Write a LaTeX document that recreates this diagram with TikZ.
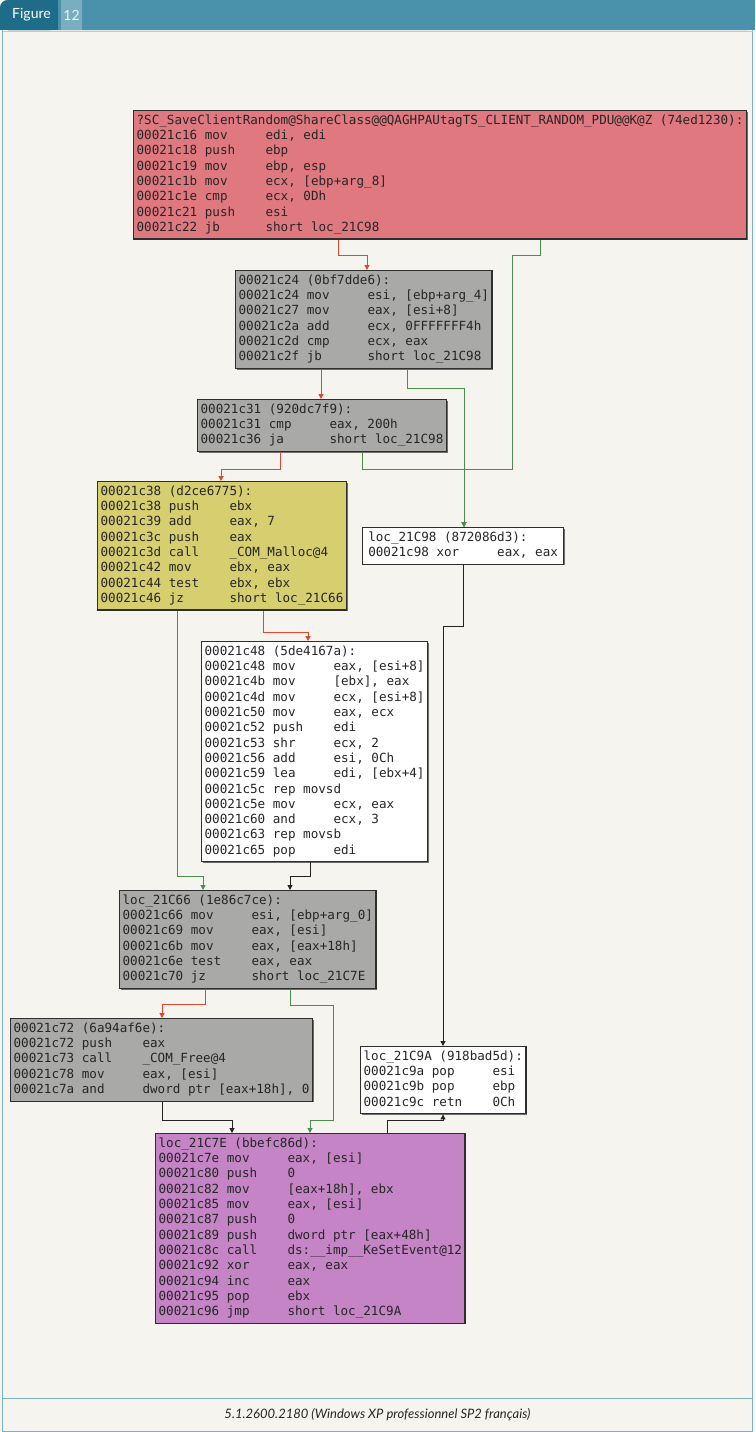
\documentclass[tikz,border=0pt]{standalone}
\usepackage{fontspec}
\setmainfont{Lato}
\newfontfamily\codefont{DejaVu Sans Mono}
\usetikzlibrary{arrows.meta,shadows}
\definecolor{paper}{HTML}{F6F4EE}
\definecolor{barteal}{HTML}{4A92AB}
\definecolor{tabdark}{HTML}{1F6C89}
\definecolor{tablight}{HTML}{79AEC0}
\definecolor{frameblue}{HTML}{7EAEC2}
\definecolor{redbox}{HTML}{E07880}
\definecolor{graybox}{HTML}{A9A9A7}
\definecolor{yelbox}{HTML}{D7CE6F}
\definecolor{purbox}{HTML}{C584C6}
\definecolor{boxline}{HTML}{2E2E2E}
\definecolor{lred}{HTML}{E5442F}
\definecolor{lgreen}{HTML}{4E8C4C}
\definecolor{lblack}{HTML}{222222}
\newcommand\code{\codefont\fontsize{12.6}{15.3}\selectfont}
\newcommand\I[2]{\strut\makebox[17\fontcharwd\font`\0][l]{#1}#2}
\newcommand\T[1]{\strut#1}
\begin{document}
\begin{tikzpicture}[x=1pt,y=-1pt,
  box/.style={anchor=north west, draw=boxline, line width=1.2pt, align=left,
    inner xsep=3pt, inner ysep=3pt, font=\code, text=black!85,
    drop shadow={shadow xshift=1.2pt, shadow yshift=-1.2pt, fill=black!70, opacity=0.8}},
  rc/.style={draw=lred, line width=1pt, -{Triangle[length=5pt,width=5pt]}},
  gc/.style={draw=lgreen, line width=1pt, -{Triangle[length=5pt,width=5pt]}},
  kc/.style={draw=lblack, line width=1pt, -{Triangle[length=5pt,width=5pt]}}]
\useasboundingbox (0,0) rectangle (755,1432);
\fill[paper] (0,0) rectangle (755,1432);
% header
\fill[barteal, rounded corners=8pt] (0,0) rectangle (755,30);
\fill[barteal] (0,12) rectangle (755,30);
\fill[barteal] (12,0) rectangle (755,30);
\fill[tabdark, rounded corners=8pt] (0,0) rectangle (58,30);
\fill[tabdark] (0,12) rectangle (58,30);
\fill[tabdark] (12,0) rectangle (58,30);
\fill[tablight] (61,0) rectangle (82,30);
\node[anchor=west, text=white, font=\fontsize{14}{16}\selectfont, inner sep=0] (fig) at (12,15) {Figure};
\node[anchor=center, text=white!85!tablight, font=\fontsize{14}{16}\selectfont, inner sep=0] (num) at (71.5,15) {12};
% frame
\draw[frameblue, line width=1pt] (2.5,30) -- (2.5,1431.5) -- (752.5,1431.5) -- (752.5,30);
\draw[frameblue, line width=1pt] (2.5,1398) -- (752.5,1398);
\draw[frameblue!60, line width=0.6pt] (2.5,31.5) -- (752.5,31.5);
\node[font=\itshape\fontsize{13}{15}\selectfont, text=black!85] (cap) at (377.5,1415) {5.1.2600.2180 (Windows XP professionnel SP2 français)};

% blocks
\node[box, fill=redbox] (red) at (133,110) {\T{?SC\_SaveClientRandom@ShareClass@@QAGHPAUtagTS\_CLIENT\_RANDOM\_PDU@@K@Z (74ed1230):}\\
\I{00021c16 mov}{edi, edi}\\
\I{00021c18 push}{ebp}\\
\I{00021c19 mov}{ebp, esp}\\
\I{00021c1b mov}{ecx, [ebp+arg\_8]}\\
\I{00021c1e cmp}{ecx, 0Dh}\\
\I{00021c21 push}{esi}\\
\I{00021c22 jb}{short loc\_21C98}};

\node[box, fill=graybox] (g1) at (235,270) {\T{00021c24 (0bf7dde6):}\\
\I{00021c24 mov}{esi, [ebp+arg\_4]}\\
\I{00021c27 mov}{eax, [esi+8]}\\
\I{00021c2a add}{ecx, 0FFFFFFF4h}\\
\I{00021c2d cmp}{ecx, eax}\\
\I{00021c2f jb}{short loc\_21C98}};

\node[box, fill=graybox] (g2) at (197,399) {\T{00021c31 (920dc7f9):}\\
\I{00021c31 cmp}{eax, 200h}\\
\I{00021c36 ja}{short loc\_21C98}};

\node[box, fill=yelbox] (yel) at (97,481) {\T{00021c38 (d2ce6775):}\\
\I{00021c38 push}{ebx}\\
\I{00021c39 add}{eax, 7}\\
\I{00021c3c push}{eax}\\
\I{00021c3d call}{\_COM\_Malloc@4}\\
\I{00021c42 mov}{ebx, eax}\\
\I{00021c44 test}{ebx, ebx}\\
\I{00021c46 jz}{short loc\_21C66}};

\node[box, fill=white, minimum width=201pt] (l98) at (362,527) {\T{loc\_21C98 (872086d3):}\\
\I{00021c98 xor}{eax, eax}};

\node[box, fill=white] (wht) at (201,641) {\T{00021c48 (5de4167a):}\\
\I{00021c48 mov}{eax, [esi+8]}\\
\I{00021c4b mov}{[ebx], eax}\\
\I{00021c4d mov}{ecx, [esi+8]}\\
\I{00021c50 mov}{eax, ecx}\\
\I{00021c52 push}{edi}\\
\I{00021c53 shr}{ecx, 2}\\
\I{00021c56 add}{esi, 0Ch}\\
\I{00021c59 lea}{edi, [ebx+4]}\\
\T{00021c5c rep movsd}\\
\I{00021c5e mov}{ecx, eax}\\
\I{00021c60 and}{ecx, 3}\\
\T{00021c63 rep movsb}\\
\I{00021c65 pop}{edi}};

\node[box, fill=graybox] (l66) at (119,890) {\T{loc\_21C66 (1e86c7ce):}\\
\I{00021c66 mov}{esi, [ebp+arg\_0]}\\
\I{00021c69 mov}{eax, [esi]}\\
\I{00021c6b mov}{eax, [eax+18h]}\\
\I{00021c6e test}{eax, eax}\\
\I{00021c70 jz}{short loc\_21C7E}};

\node[box, fill=graybox] (g72) at (10,1018) {\T{00021c72 (6a94af6e):}\\
\I{00021c72 push}{eax}\\
\I{00021c73 call}{\_COM\_Free@4}\\
\I{00021c78 mov}{eax, [esi]}\\
\I{00021c7a and}{dword ptr [eax+18h], 0}};

\node[box, fill=white] (l9a) at (360,1046) {\T{loc\_21C9A (918bad5d):}\\
\I{00021c9a pop}{esi}\\
\I{00021c9b pop}{ebp}\\
\I{00021c9c retn}{0Ch}};

\node[box, fill=purbox] (l7e) at (155,1133) {\T{loc\_21C7E (bbefc86d):}\\
\I{00021c7e mov}{eax, [esi]}\\
\I{00021c80 push}{0}\\
\I{00021c82 mov}{[eax+18h], ebx}\\
\I{00021c85 mov}{eax, [esi]}\\
\I{00021c87 push}{0}\\
\I{00021c89 push}{dword ptr [eax+48h]}\\
\I{00021c8c call}{ds:\_\_imp\_\_KeSetEvent@12}\\
\I{00021c92 xor}{eax, eax}\\
\I{00021c94 inc}{eax}\\
\I{00021c95 pop}{ebx}\\
\I{00021c96 jmp}{short loc\_21C9A}};

% connectors
\draw[rc] ([xshift=205]red.south west) |- ([xshift=132,yshift=15]g1.north west) -- ([xshift=132]g1.north west);
\draw[gc] ([xshift=407]red.south west) -- ++(0,16) -| (512,469) -| ([xshift=102]l98.north west);
\draw[rc] ([xshift=86]g1.south west) -- ([xshift=86]g1.south west |- g2.north);
\draw[gc] ([xshift=172]g1.south west) -- ++(0,19) -| ([xshift=102]l98.north west);
\draw[rc] ([xshift=83]g2.south west) |- ([xshift=124,yshift=12]yel.north west) -- ([xshift=124]yel.north west);
\draw[gc] ([xshift=165]g2.south west) |- ([xshift=102,yshift=58]l98.north west) -- ([xshift=102]l98.north west);
\draw[rc] ([xshift=166]yel.south west) |- ([xshift=107,yshift=9]wht.north west) -- ([xshift=107]wht.north west);
\draw[gc] ([xshift=80]yel.south west) |- ([xshift=84,yshift=14]l66.north west) -- ([xshift=84]l66.north west);
\draw[kc] ([xshift=109]wht.south west) |- ([xshift=171,yshift=14]l66.north west) -- ([xshift=171]l66.north west);
\draw[kc] ([xshift=101]l98.south west) -- ++(0,62) -| ([xshift=83]l9a.north west);
\draw[rc] ([xshift=86]l66.south west) |- ([xshift=152,yshift=14]g72.north west) -- ([xshift=152]g72.north west);
\draw[gc] ([xshift=171]l66.south west) -- ++(0,16) -| (333,1120) -| ([xshift=155]l7e.north west);
\draw[kc] ([xshift=152]g72.south west) |- ([xshift=77,yshift=13]l7e.north west) -- ([xshift=77]l7e.north west);
\draw[kc] ([xshift=232]l7e.north west) -- ++(0,-13) -| ([xshift=83]l9a.south west);
\end{tikzpicture}
\end{document}
